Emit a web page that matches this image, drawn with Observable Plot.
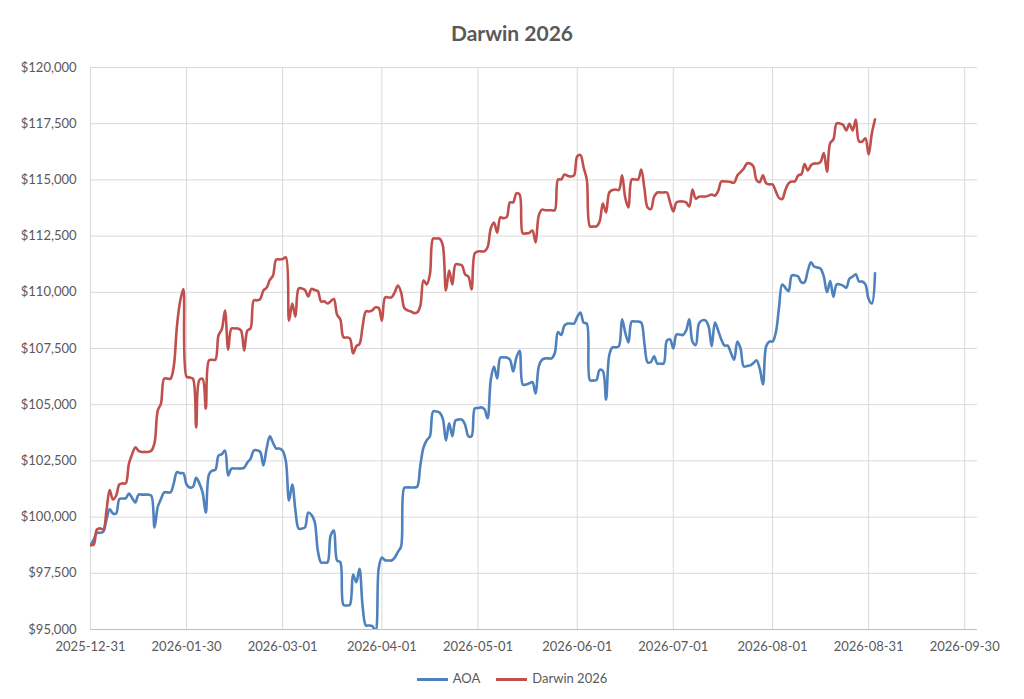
<!DOCTYPE html>
<html>
<head>
<meta charset="utf-8">
<script src="https://cdn.jsdelivr.net/npm/d3@7"></script>
<script src="https://cdn.jsdelivr.net/npm/@observablehq/plot@0.6"></script>
<style>
  html, body { margin: 0; padding: 0; background: #fff; }
  body { width: 1024px; height: 699px; overflow: hidden; font-family: Lato, "Open Sans", sans-serif; }
  #title { height: 50px; line-height: 66px; text-align: center; font-size: 21px; font-weight: bold; color: #595959; }
  #legend { position: absolute; top: 668px; left: 0; width: 1024px; text-align: center; font-size: 13px; color: #595959; }
  .item { display: inline-block; margin: 0 8px; vertical-align: middle; }
  .sw { display: inline-block; width: 31px; height: 0; border-top: 3px solid; vertical-align: middle; margin-right: 5px; }
</style>
</head>
<body>
<div id="title">Darwin 2026</div>
<div id="chart"></div>
<div id="legend"></div>
<script>
const startDate = "2025-12-31";
const seriesNames = ["AOA", "Darwin 2026"];
const seriesColors = ["#4F81BD", "#C0504D"];
const xTickLabels = ["2025-12-31","2026-01-30","2026-03-01","2026-04-01","2026-05-01","2026-06-01","2026-07-01","2026-08-01","2026-08-31","2026-09-30"];
const yTicks = [95000,97500,100000,102500,105000,107500,110000,112500,115000,117500,120000];

// daily values from 2025-12-31
const aoaValues = [
98750,99000,99300,99300,99350,99900,100350,100160,100160,100800,
100830,100830,101050,100850,100650,101000,101000,101000,101000,100950,
99540,100450,100800,101100,101100,101100,101500,102000,101950,101950,
101450,101320,101350,101750,101500,101100,100200,101900,102070,102100,
102740,102800,102960,101850,102160,102160,102160,102160,102200,102430,
102600,102960,102970,102900,102300,103050,103590,103300,103050,103050,
102950,102500,100740,101450,100300,99490,99490,99550,100200,100100,
99800,98500,97980,97980,97980,99180,99400,98070,98000,96100,
96070,96100,97450,97100,97700,96000,95180,95180,95150,94950,
97720,98200,98080,98070,98070,98200,98450,98700,101300,101320,
101320,101320,101350,102300,103100,103420,103600,104700,104700,104650,
104390,103410,104170,103600,104300,104340,104340,104100,103600,103600,
104830,104850,104880,104800,104400,106100,106700,106170,107100,107100,
107100,107000,106480,107100,107400,105900,105900,105950,106000,105500,
106700,107000,107060,107060,107060,107300,108230,108100,108520,108610,
108610,108610,108900,109100,108650,108600,106080,106080,106100,106550,
106500,105230,107200,107550,107550,107600,108800,108200,107770,108700,
108700,108700,108650,107700,106880,106900,107150,106830,106830,106830,
107850,107900,107500,108120,108120,108100,108300,108800,107800,107650,
108610,108750,108750,108500,107600,108660,108300,107900,107630,107630,
107300,107000,107810,107500,106700,106720,106750,106850,106970,106600,
105900,107600,107810,107810,108200,109300,110350,110200,110050,110750,
110750,110700,110440,110450,110950,111330,111150,111100,111050,110700,
110000,110500,109800,110350,110350,110300,110200,110600,110700,110800,
110480,110480,110350,109700,109500,110850
];
const darwinValues = [
98750,98780,99450,99500,99450,100300,101200,100780,100950,101450,
101500,101500,102380,102800,103100,102950,102900,102900,102900,102950,
103300,104740,105050,106160,106160,106160,106700,108500,109600,110150,
106250,106210,106150,103990,106100,106150,104830,106970,107000,107000,
108100,108350,109190,107450,108390,108390,108390,108300,107410,108300,
108400,109640,109640,109700,110080,110200,110550,110750,111460,111460,
111480,111550,108740,109500,108920,110170,110170,110100,109810,110150,
110100,110050,109590,109600,109500,109600,109700,109000,108800,108000,
107990,107950,107280,107600,107700,108500,109150,109150,109200,109330,
109300,108740,109770,109770,109770,110000,110300,110000,109300,109200,
109150,109080,109100,109400,110530,110350,110800,112390,112390,112390,
112100,110080,110970,110350,111240,111240,111200,110790,110700,110130,
111730,111820,111820,111820,112000,112840,113100,112650,113330,113300,
113350,114000,114000,114400,114350,112620,112620,112640,112750,112220,
113420,113680,113650,113650,113650,113650,115020,115020,115240,115180,
115150,115200,116050,116100,115550,115000,112930,112930,112930,113150,
113950,113550,114440,114550,114570,114550,115200,114200,113770,115020,
115020,115020,115460,114600,113770,113700,114250,114440,114440,114440,
114440,114000,113600,114000,114040,114040,114000,113820,114570,114170,
114250,114260,114260,114300,114350,114300,114500,114930,114930,114930,
114900,114880,115200,115350,115500,115730,115730,115600,115000,114900,
115200,114850,114800,114800,114500,114200,114150,114550,114850,114930,
114930,115200,115250,115700,115420,115650,115730,115730,115800,116200,
115370,116640,116800,117510,117510,117450,117200,117500,117200,117690,
116710,116710,116850,116130,117060,117690
];

const parse = d3.utcParse("%Y-%m-%d");
const start = parse(startDate);
const rows = [];
[aoaValues, darwinValues].forEach((vals, s) => {
  vals.forEach((v, i) => rows.push({date: d3.utcDay.offset(start, i), value: v, series: seriesNames[s]}));
});
const xTicks = xTickLabels.map(parse);
const fmtDate = d3.utcFormat("%Y-%m-%d");
const fmtMoney = d3.format("$,");

const chart = Plot.plot({
  width: 1024,
  height: 610,
  marginTop: 17,
  marginBottom: 31,
  marginLeft: 90,
  marginRight: 47,
  style: {fontFamily: "Lato, 'Open Sans', sans-serif", fontSize: "13px", color: "#595959", background: "#fff"},
  x: {type: "utc", domain: [start, parse("2026-10-04")], ticks: xTicks, tickFormat: fmtDate, label: null},
  y: {domain: [95000, 120000], ticks: yTicks, tickFormat: fmtMoney, label: null},
  color: {domain: seriesNames, range: seriesColors},
  marks: [
    Plot.gridY(yTicks, {stroke: "#d9d9d9", strokeOpacity: 1}),
    Plot.gridX(xTicks, {stroke: "#d9d9d9", strokeOpacity: 1}),
    Plot.ruleY([95000], {stroke: "#bfbfbf", strokeWidth: 1}),
    Plot.axisX(xTicks, {tickSize: 0, tickPadding: 12, tickFormat: fmtDate, fontSize: 13, fill: "#595959", label: null}),
    Plot.axisY(yTicks, {tickSize: 0, tickPadding: 14, tickFormat: fmtMoney, fontSize: 13, fill: "#595959", label: null}),
    Plot.line(rows, {x: "date", y: "value", stroke: "series", z: "series", strokeWidth: 2.6, curve: "catmull-rom", clip: true})
  ]
});
document.getElementById("chart").appendChild(chart);

const legend = document.getElementById("legend");
seriesNames.forEach((n, i) => {
  const item = document.createElement("span");
  item.className = "item";
  const sw = document.createElement("span");
  sw.className = "sw";
  sw.style.borderTopColor = seriesColors[i];
  item.appendChild(sw);
  item.appendChild(document.createTextNode(n));
  legend.appendChild(item);
});
</script>
</body>
</html>
